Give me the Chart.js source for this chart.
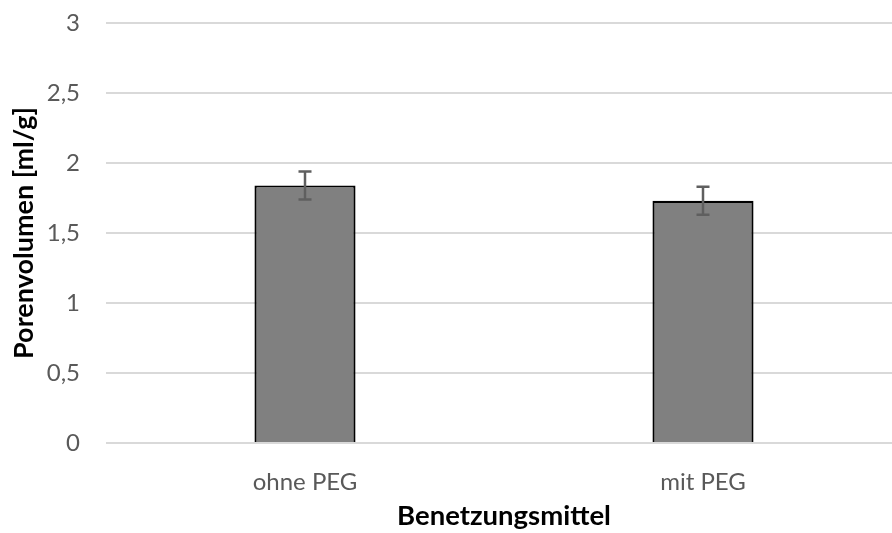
<!DOCTYPE html>
<html>
<head>
<meta charset="utf-8">
<script src="https://cdn.jsdelivr.net/npm/chart.js@4/dist/chart.umd.min.js"></script>
<style>
  html, body { margin: 0; padding: 0; overflow: hidden; background: #fff; width: 892px; height: 533px; }
  #wrap { position: absolute; left: 0; top: 0; width: 902px; height: 533px; }
</style>
</head>
<body>
<div id="wrap"><canvas id="c" width="902" height="533"></canvas></div>
<script>
// Porenvolumen je Benetzungsmittel (Mittelwert ± Standardabweichung)
const categories = ['ohne PEG', 'mit PEG'];
const porenvolumen = [1.84, 1.73];
const fehler = [0.10, 0.10];
const yTicks = [0, 0.5, 1, 1.5, 2, 2.5, 3];

const FONT = 'Lato, "Open Sans", sans-serif';

// Fehlerbalken mit Endkappen über den Säulen
const errorBars = {
  id: 'errorBars',
  afterDatasetsDraw(chart) {
    const { ctx, scales: { y } } = chart;
    const meta = chart.getDatasetMeta(0);
    ctx.save();
    ctx.strokeStyle = '#5f5f5f';
    ctx.lineWidth = 2.5;
    meta.data.forEach((bar, i) => {
      const x = bar.x;
      const top = y.getPixelForValue(porenvolumen[i] + fehler[i]);
      const bot = y.getPixelForValue(porenvolumen[i] - fehler[i]);
      const cap = 6.5;
      ctx.beginPath();
      ctx.moveTo(x, top); ctx.lineTo(x, bot);
      ctx.moveTo(x - cap, top); ctx.lineTo(x + cap, top);
      ctx.moveTo(x - cap, bot); ctx.lineTo(x + cap, bot);
      ctx.stroke();
    });
    ctx.restore();
  }
};

new Chart(document.getElementById('c'), {
  type: 'bar',
  data: {
    labels: categories,
    datasets: [{
      data: porenvolumen,
      backgroundColor: '#808080',
      borderColor: '#000000',
      borderWidth: 2.2,
      barPercentage: 0.254,
      categoryPercentage: 1.0
    }]
  },
  options: {
    responsive: false,
    animation: false,
    devicePixelRatio: 1,
    layout: { padding: { top: 23, right: 0, bottom: 0, left: 0 } },
    plugins: { legend: { display: false }, tooltip: { enabled: false } },
    scales: {
      x: {
        grid: { display: false, drawTicks: false },
        border: { display: false },
        ticks: { color: '#595959', font: { family: FONT, size: 24 }, padding: 25 },
        title: {
          display: true, text: 'Benetzungsmittel', color: '#000000',
          font: { family: FONT, size: 27.5, weight: 'bold' }, padding: { top: 0, bottom: 0 }
        },
        afterFit(scale) { scale.height = 90; }
      },
      y: {
        min: 0, max: 3,
        afterBuildTicks(scale) { scale.ticks = yTicks.map(v => ({ value: v })); },
        grid: { color: '#d9d9d9', lineWidth: 2, drawTicks: false },
        border: { display: false },
        ticks: {
          color: '#595959', font: { family: FONT, size: 24 }, padding: 26,
          callback: v => String(v).replace('.', ',')
        },
        title: {
          display: true, text: 'Porenvolumen [ml/g]', color: '#000000',
          font: { family: FONT, size: 27, weight: 'bold' }, padding: { top: 8, bottom: 0 }
        },
        afterFit(scale) {
          scale.width = 106;
          scale.paddingTop = 0;
          scale.paddingBottom = 0;
        }
      }
    }
  },
  plugins: [errorBars]
});
</script>
</body>
</html>
